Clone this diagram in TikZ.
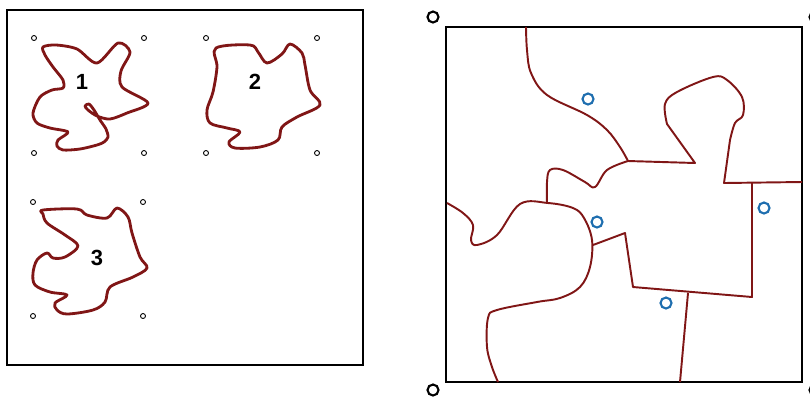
\documentclass[tikz,border=0pt]{standalone}
\usepackage{fontspec}
\setsansfont{Liberation Sans}
\definecolor{blobred}{RGB}{128,22,22}
\definecolor{markblue}{RGB}{30,110,175}
\tikzset{
  frame/.style={draw=black, line width=1.6pt},
  outline/.style={draw=blobred, line width=1.6pt, line join=round},
  cutline/.style={draw=blobred, line width=1.1pt, line join=round},
  pin/.style={draw=black, line width=0.5pt},
  corner/.style={draw=black, line width=1.2pt},
  seed/.style={draw=markblue, line width=1.2pt},
  piecenum/.style={font=\sffamily\bfseries\fontsize{12.5}{14}\selectfont, inner sep=0pt},
}
\begin{document}
\begin{tikzpicture}[x=0.02cm,y=-0.02cm]
  \useasboundingbox (0,0) rectangle (810,397);

  % Left panel: three loose pieces
  \draw[frame] (7,10) rectangle (363,365);
  \foreach \x/\y in {34/38,144/38,34/153,144/153,206/38,317/38,206/153,317/153,33/202,143/202,33/316,143/316}
    \draw[pin] (\x,\y) circle[radius=0.05cm];

  % piece 1
  \draw[outline] plot[smooth cycle, tension=0.5] coordinates {(43,47) (56,45) (77,49) (97,63) (118,43) (130,52) (121,71) (122,87) (148,103) (127,113) (110,119) (97,116) (88,110) (85,106) (89,104) (94,110) (100,120) (106,129) (108,137) (104,142) (97,145) (80,149) (63,150) (57,146) (58,140) (68,132) (50,128) (37,123) (33,113) (40,97) (52,90) (63,88) (63,80) (53,67) (45,55)};
  \node[piecenum] (n1) at (82,82) {1};

  % piece 2
  \draw[outline] plot[smooth cycle, tension=0.55] coordinates {(216,48) (250,45) (258,52) (267,63) (282,54) (290,44) (302,53) (305,65) (310,90) (320,105) (297,117) (282,127) (278,140) (260,147) (235,148) (229,142) (240,132) (227,128) (210,123) (207,110) (213,92) (217,67)};
  \node[piecenum] (n2) at (255,82) {2};

  % piece 3
  \draw[outline] plot[smooth cycle, tension=0.55] coordinates {(43,210) (77,209) (87,215) (107,218) (117,208) (128,217) (132,233) (140,257) (147,268) (133,277) (110,287) (105,302) (93,310) (67,314) (57,310) (55,303) (67,295) (50,292) (35,285) (33,273) (37,260) (47,253) (53,258) (65,257) (78,246) (65,235) (47,223) (43,214)};
  \node[piecenum] (n3) at (97,258) {3};

  % Right panel: cut layout
  \draw[frame] (446,27) rectangle (802,382);
  \foreach \x/\y in {433/17,815/17,433/390,815/390}
    \draw[corner] (\x,\y) circle[radius=0.11cm];
  \foreach \x/\y in {588/99,764/208,666/303,597/222}
    \draw[seed] (\x,\y) circle[radius=0.11cm];

  \draw[cutline] plot[smooth, tension=0.6] coordinates {(526,27) (527,50) (531,73) (547,95) (587,115) (607,130) (620,147) (628,161)};
  \draw[cutline] (628,161) -- (695,163) -- (667,124)
    -- plot[smooth, tension=0.6] coordinates {(667,124) (665,104) (677,92) (713,77) (727,80) (742,97) (743,115) (735,123) (730,140)}
    -- (724,183) -- (802,182);
  \draw[cutline] plot[smooth, tension=0.6] coordinates {(628,161) (607,170) (595,187) (585,182) (563,170) (550,170) (547,182) (547,203)};
  \draw[cutline] (752,182) -- (752,297) -- (633,287) -- (625,233) -- (593,245);
  \draw[cutline] (688,293) -- (680,382);
  \draw[cutline] plot[smooth, tension=0.6] coordinates {(447,203) (463,213) (473,225) (471,240) (477,245) (497,235) (520,204) (548,203) (573,208) (584,218) (592,240) (590,267) (580,287) (560,298) (537,302) (497,310) (488,318) (487,347) (492,367) (498,382)};
\end{tikzpicture}
\end{document}
